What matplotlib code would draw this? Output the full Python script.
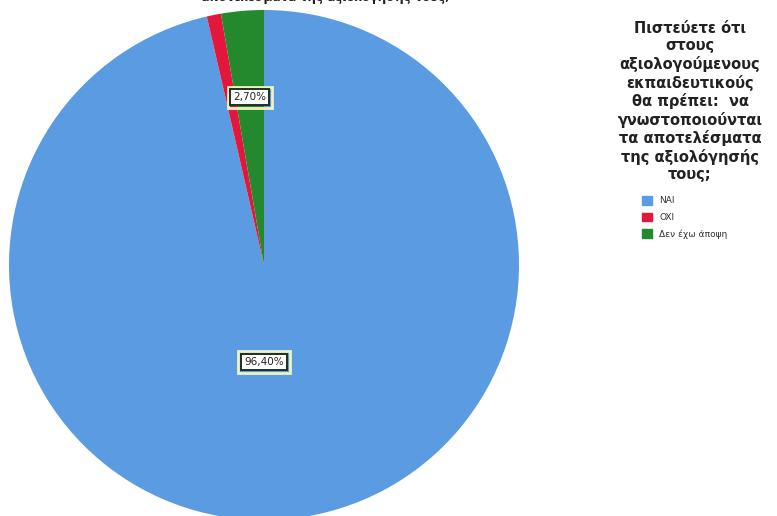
import matplotlib.pyplot as plt
import numpy as np

labels = ["NAI", "OXI", "Δεν έχω άποψη"]
values = [96.4, 0.9, 2.7]
colors = ["#5a9be2", "#e3173b", "#23892c"]
pct_labels = ["96,40%", "", "2,70%"]
pct_dist = [0.38, 0.0, 0.66]
pct_angle = [-90, None, None]   # None -> middle of the slice

legend_title = ("Πιστεύετε ότι\nστους\nαξιολογούμενους\nεκπαιδευτικούς\n"
                "θα πρέπει:  να\nγνωστοποιούνται\nτα αποτελέσματα\n"
                "της αξιολόγησής\nτους;")
chart_title = "αποτελέσματα της αξιολόγησής τους;"

fig = plt.figure(figsize=(7.77, 5.16), dpi=100)
ax = fig.add_axes([9 / 777, -4 / 516, 510 / 777, 510 / 516])

wedges, _ = ax.pie(values, colors=colors, startangle=90, counterclock=False,
                   wedgeprops=dict(linewidth=0))
ax.set_xlim(-1.0, 1.0)
ax.set_ylim(-1.0, 1.0)
ax.set_aspect("equal")

for w, txt, d, a in zip(wedges, pct_labels, pct_dist, pct_angle):
    if not txt:
        continue
    if a is None:
        a = (w.theta1 + w.theta2) / 2
    ang = np.deg2rad(a)
    x, y = d * np.cos(ang), d * np.sin(ang)
    # light halo box behind the label box
    ax.text(x, y, txt, ha="center", va="center", fontsize=7.5, color="none",
            bbox=dict(boxstyle="square,pad=0.55", facecolor="none",
                      edgecolor="#eef3c0", linewidth=2.0))
    ax.text(x, y, txt, ha="center", va="center", fontsize=7.5, color="#222222",
            bbox=dict(boxstyle="square,pad=0.3", facecolor="white",
                      edgecolor="#1f2f22", linewidth=1.4))

# title is cut off at the top of the image
fig.text(325 / 777, 1.0 + 2 / 516, chart_title, ha="center", va="center",
         fontsize=8.5, fontweight="bold", color="#222222")

fig.text(690 / 777, 1 - 21 / 516, legend_title, ha="center", va="top",
         fontsize=10.5, fontweight="bold", color="#222222", linespacing=1.2)

handles = [plt.Rectangle((0, 0), 1, 1, color=c) for c in colors]
fig.legend(handles, labels, loc="upper left", bbox_to_anchor=(642 / 777, 1 - 196 / 516),
           frameon=False, fontsize=6.5, handlelength=1.1, handleheight=1.1,
           handletextpad=0.8, labelspacing=0.8, borderaxespad=0, borderpad=0,
           labelcolor="#333333")

fig.savefig("out.png", dpi=100, facecolor="white")
